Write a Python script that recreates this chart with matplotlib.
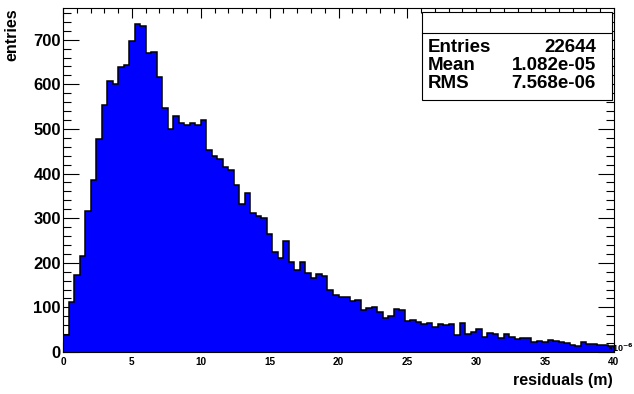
import numpy as np
import matplotlib
matplotlib.use('Agg')
import matplotlib.pyplot as plt
from matplotlib.patches import Rectangle
from matplotlib.ticker import MultipleLocator

plt.rcParams['font.family'] = ['Liberation Sans', 'DejaVu Sans']
plt.rcParams['font.weight'] = 'bold'

# residuals histogram, 100 bins from 0 to 40 (x 1e-6 m)
x_lo, x_hi, nbins = 0, 40, 100
counts = [38, 113, 173, 216, 315, 386, 477, 553, 607, 601,
          638, 644, 697, 735, 730, 670, 672, 616, 547, 499,
          530, 514, 509, 513, 508, 521, 452, 440, 432, 414,
          408, 374, 332, 356, 312, 305, 300, 265, 224, 210,
          248, 201, 184, 201, 177, 166, 174, 170, 140, 128,
          123, 123, 114, 116, 95, 98, 100, 90, 76, 81,
          97, 94, 69, 72, 68, 62, 66, 55, 62, 61,
          62, 37, 64, 40, 44, 52, 34, 43, 40, 32,
          41, 33, 29, 31, 32, 23, 25, 23, 27, 25,
          22, 20, 16, 13, 23, 18, 17, 16, 15, 14]

stat_names = ['Entries', 'Mean', 'RMS']
stat_values = ['22644', '1.082e-05', '7.568e-06']

W, H = 634, 394
fig = plt.figure(figsize=(W / 100, H / 100), dpi=100)
ax = fig.add_axes([63 / W, 1 - 352 / H, 551 / W, 344 / H])

edges = np.linspace(x_lo, x_hi, nbins + 1)
ax.stairs(counts, edges, fill=True, color='#0000ff', zorder=2)
ax.stairs(counts, edges, color='black', lw=1.1, baseline=0, zorder=3)

ax.set_xlim(x_lo, x_hi)
ax.set_ylim(0, 771)

ax.xaxis.set_major_locator(MultipleLocator(5))
ax.xaxis.set_minor_locator(MultipleLocator(1))
ax.yaxis.set_major_locator(MultipleLocator(100))
ax.yaxis.set_minor_locator(MultipleLocator(20))

ax.tick_params(axis='both', which='both', direction='in',
               top=True, right=True, width=0.8, color='black')
ax.tick_params(axis='x', which='major', length=7.5, labelsize=7.2, pad=3.5)
ax.tick_params(axis='x', which='minor', length=3.6)
ax.tick_params(axis='y', which='major', length=11.5, labelsize=12, pad=1.5)
ax.tick_params(axis='y', which='minor', length=5.8)
for lab in ax.get_xticklabels() + ax.get_yticklabels():
    lab.set_fontweight('bold')
for s in ax.spines.values():
    s.set_linewidth(0.8)
    s.set_zorder(4)

fig.text(12 / W, 1 - 8 / H, 'entries', rotation=90, ha='center', va='top',
         fontsize=11.5, fontweight='bold')
fig.text(613 / W, 1 - 381 / H, 'residuals (m)', ha='right', va='center',
         fontsize=11.5, fontweight='bold')
fig.text(633.5 / W, 1 - 348 / H, '×10$^{-6}$', ha='right', va='center',
         fontsize=6.5, fontweight='bold')

# stats box
box = Rectangle((422 / W, 1 - 100 / H), 190 / W, 88 / H, transform=fig.transFigure,
                facecolor='white', edgecolor='black', lw=0.8, zorder=5)
fig.patches.append(box)
fig.add_artist(plt.Line2D([422 / W, 612 / W], [1 - 33 / H, 1 - 33 / H],
                          transform=fig.transFigure, color='black', lw=0.8, zorder=6))
row_y = [47, 66, 84]
for name, val, yy in zip(stat_names, stat_values, row_y):
    fig.text(428 / W, 1 - yy / H, name, ha='left', va='center',
             fontsize=13.5, fontweight='bold', zorder=7)
    fig.text(596 / W, 1 - yy / H, val, ha='right', va='center',
             fontsize=13.5, fontweight='bold', zorder=7)

fig.savefig('out.png', dpi=100, facecolor='white')
